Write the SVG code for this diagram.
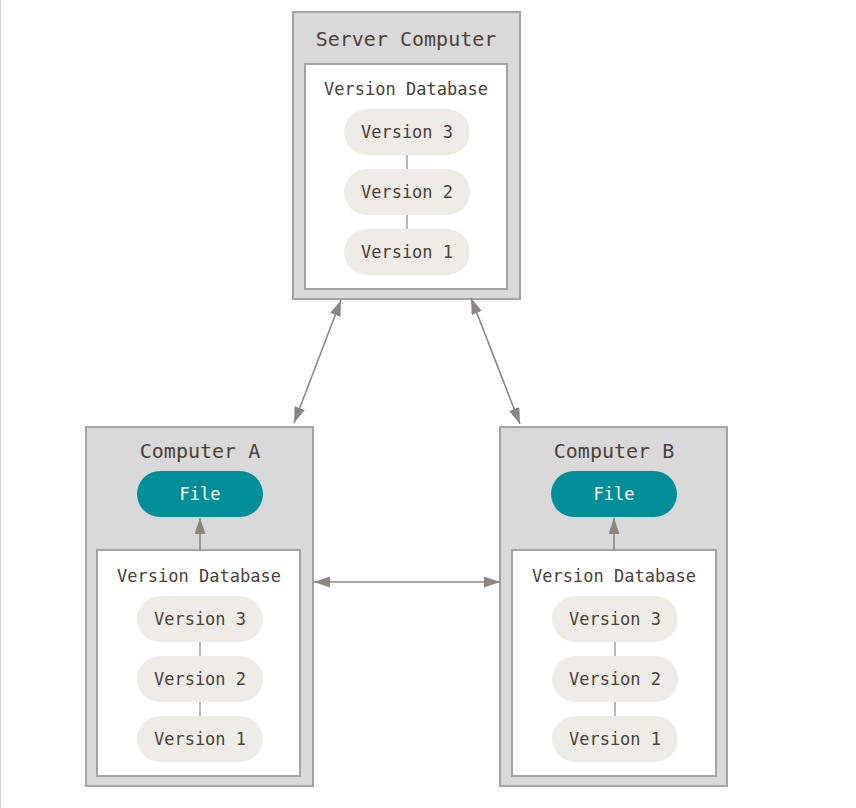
<svg xmlns="http://www.w3.org/2000/svg" width="856" height="808" viewBox="0 0 856 808">
<defs>
<style>
.outer{fill:#d9d9d9;stroke:#a3a3a3;stroke-width:2}
.inner{fill:#ffffff;stroke:#a3a3a3;stroke-width:2}
.pill{fill:#eeece6}
.file{fill:#008e99}
.t{font-family:"DejaVu Sans Mono","Liberation Mono",monospace;fill:#4a413a;text-anchor:middle;dominant-baseline:central}
.title{font-size:20px}
.lbl{font-size:17px}
.ft{fill:#ffffff}
.conn{stroke:#8b8680;stroke-width:1.6;fill:none}
.thin{stroke:#8b8680;stroke-width:1.2}
</style>
<marker id="ahb" viewBox="0 0 16 11" refX="16" refY="5.5" markerWidth="16" markerHeight="11" markerUnits="userSpaceOnUse" orient="auto-start-reverse">
<path d="M0,0 L16,5.5 L0,11 z" fill="#8b8680"/>
</marker>
</defs>
<rect width="856" height="808" fill="#ffffff"/>
<line x1="0.5" y1="0" x2="0.5" y2="808" stroke="#d0d0d0" stroke-width="1"/>

<g id="server">
<rect class="outer" x="293" y="12" width="227" height="287"/>
<text class="t title" x="406" y="39">Server Computer</text>
<rect class="inner" x="305" y="64" width="202" height="225"/>
<text class="t lbl" x="406" y="89">Version Database</text>
<line class="thin" x1="407" y1="155" x2="407" y2="169"/>
<line class="thin" x1="407" y1="215" x2="407" y2="229"/>
<rect class="pill" x="344" y="109" width="126" height="46" rx="23"/>
<text class="t lbl" x="407" y="132">Version 3</text>
<rect class="pill" x="344" y="169" width="126" height="46" rx="23"/>
<text class="t lbl" x="407" y="192">Version 2</text>
<rect class="pill" x="344" y="229" width="126" height="46" rx="23"/>
<text class="t lbl" x="407" y="252">Version 1</text>
</g>

<g id="computer-a">
<rect class="outer" x="86" y="427" width="227" height="359"/>
<text class="t title" x="200" y="451">Computer A</text>
<rect class="file" x="137" y="471" width="126" height="46" rx="23"/>
<text class="t lbl ft" x="200" y="494">File</text>
<rect class="inner" x="97" y="550" width="203" height="226"/>
<text class="t lbl" x="199" y="576">Version Database</text>
<line class="thin" x1="200" y1="642" x2="200" y2="656"/>
<line class="thin" x1="200" y1="702" x2="200" y2="716"/>
<rect class="pill" x="137" y="596" width="126" height="46" rx="23"/>
<text class="t lbl" x="200" y="619">Version 3</text>
<rect class="pill" x="137" y="656" width="126" height="46" rx="23"/>
<text class="t lbl" x="200" y="679">Version 2</text>
<rect class="pill" x="137" y="716" width="126" height="46" rx="23"/>
<text class="t lbl" x="200" y="739">Version 1</text>
</g>

<g id="computer-b">
<rect class="outer" x="500" y="427" width="227" height="359"/>
<text class="t title" x="614" y="451">Computer B</text>
<rect class="file" x="551" y="471" width="126" height="46" rx="23"/>
<text class="t lbl ft" x="614" y="494">File</text>
<rect class="inner" x="512" y="550" width="204" height="226"/>
<text class="t lbl" x="614" y="576">Version Database</text>
<line class="thin" x1="615" y1="642" x2="615" y2="656"/>
<line class="thin" x1="615" y1="702" x2="615" y2="716"/>
<rect class="pill" x="552" y="596" width="126" height="46" rx="23"/>
<text class="t lbl" x="615" y="619">Version 3</text>
<rect class="pill" x="552" y="656" width="126" height="46" rx="23"/>
<text class="t lbl" x="615" y="679">Version 2</text>
<rect class="pill" x="552" y="716" width="126" height="46" rx="23"/>
<text class="t lbl" x="615" y="739">Version 1</text>
</g>

<g id="connectors">
<line class="conn" x1="341" y1="300" x2="294" y2="423" marker-start="url(#ahb)" marker-end="url(#ahb)"/>
<line class="conn" x1="471" y1="298" x2="520" y2="424" marker-start="url(#ahb)" marker-end="url(#ahb)"/>
<line class="conn" x1="314" y1="582" x2="500" y2="582" marker-start="url(#ahb)" marker-end="url(#ahb)"/>
<line class="conn" x1="200" y1="550" x2="200" y2="518" marker-end="url(#ahb)"/>
<line class="conn" x1="614" y1="550" x2="614" y2="518" marker-end="url(#ahb)"/>
</g>
</svg>
